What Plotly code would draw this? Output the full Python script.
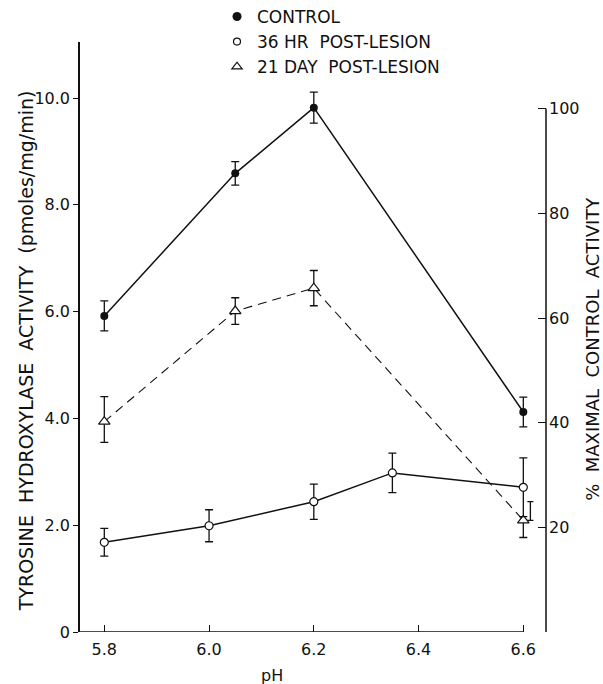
import plotly.graph_objects as go

# ---- data ----
ph_control = [5.8, 6.05, 6.2, 6.6]
control = [5.92, 8.59, 9.82, 4.12]
control_err = [0.28, 0.22, 0.29, 0.28]

ph_36hr = [5.8, 6.0, 6.2, 6.35, 6.6]
hr36 = [1.68, 1.99, 2.44, 2.98, 2.71]
hr36_err = [0.26, 0.30, 0.33, 0.37, 0.55]

ph_21day = [5.8, 6.05, 6.2, 6.6]
day21 = [3.94, 6.01, 6.44, 2.09]
day21_err_up = [0.47, 0.25, 0.33, 0.35]
day21_err_down = [0.39, 0.25, 0.33, 0.32]

x_ticks = [5.8, 6.0, 6.2, 6.4, 6.6]
x_ticklabels = ["5.8", "6.0", "6.2", "6.4", "6.6"]
y_ticks = [0, 2, 4, 6, 8, 10]
y_ticklabels = ["0", "2.0", "4.0", "6.0", "8.0", "10.0"]
pct_ticks = [0, 20, 40, 60, 80, 100]
pct_ticklabels = ["", "20", "40", "60", "80", "100"]
legend_names = ["CONTROL", "36 HR  POST-LESION", "21 DAY  POST-LESION"]

# ---- styling ----
FONT = "DejaVu Sans"
BLACK = "#111111"
Y_MAX = 11.05
X_RANGE = [5.7536, 6.6433]
PCT_PER_UNIT = 100 / 9.8
NB = "\u00a0\u00a0"
# the last 21-day upper error bar is drawn shifted right (as in the original)
BAR_SHIFT = 0.0135

fig = go.Figure()

def err(up, down=None):
    d = dict(type="data", array=up, visible=True, color=BLACK,
             thickness=1.3, width=4)
    if down is not None:
        d["symmetric"] = False
        d["arrayminus"] = down
    return d

fig.add_trace(go.Scatter(
    x=ph_control, y=control, mode="lines+markers", showlegend=False,
    line=dict(color=BLACK, width=1.5),
    marker=dict(symbol="circle", size=8, color=BLACK),
    error_y=err(control_err)))

# 21-day: upper bars for all but the last point, lower bars for all
up_main = day21_err_up[:-1] + [0]
fig.add_trace(go.Scatter(
    x=ph_21day, y=day21, mode="lines+markers", showlegend=False,
    line=dict(color=BLACK, width=1.1, dash="9px,6px"),
    marker=dict(symbol="triangle-up", size=10, color="white",
                line=dict(color=BLACK, width=1.2)),
    error_y=err(up_main, day21_err_down)))
# shifted upper bar of the last 21-day point
fig.add_trace(go.Scatter(
    x=[ph_21day[-1] + BAR_SHIFT], y=[day21[-1]], mode="markers",
    showlegend=False, hoverinfo="skip",
    marker=dict(size=1, color="rgba(0,0,0,0)"),
    error_y=dict(type="data", symmetric=False, array=[day21_err_up[-1]],
                 arrayminus=[0], color=BLACK, thickness=1.3, width=3)))

fig.add_trace(go.Scatter(
    x=ph_36hr, y=hr36, mode="lines+markers", showlegend=False,
    line=dict(color=BLACK, width=1.5),
    marker=dict(symbol="circle", size=8, color="white",
                line=dict(color=BLACK, width=1.2)),
    error_y=err(hr36_err)))

# legend-only entries (markers only, as in the reference)
leg_markers = [
    dict(symbol="circle", size=9, color=BLACK),
    dict(symbol="circle", size=7, color="white", line=dict(color=BLACK, width=1.2)),
    dict(symbol="triangle-up", size=9, color="white", line=dict(color=BLACK, width=1.2)),
]
for name, mk in zip(legend_names, leg_markers):
    fig.add_trace(go.Scatter(x=[None], y=[None], mode="markers", name=name,
                             marker=mk))

# right-hand axis (percent of maximal control activity)
fig.add_trace(go.Scatter(x=[None], y=[None], yaxis="y2", showlegend=False,
                         hoverinfo="skip"))

fig.update_layout(
    width=603, height=684,
    margin=dict(l=80, r=57, t=42, b=52, autoexpand=False),
    paper_bgcolor="white", plot_bgcolor="white",
    font=dict(family=FONT, size=16, color=BLACK),
    xaxis=dict(range=X_RANGE, tickvals=x_ticks, ticktext=x_ticklabels,
               ticks="inside", ticklen=7, tickwidth=1.3, tickcolor=BLACK,
               showline=False, showgrid=False, zeroline=False,
               ticklabelstandoff=6, tickfont=dict(size=16)),
    yaxis=dict(range=[0, Y_MAX], tickvals=y_ticks, ticktext=y_ticklabels,
               ticks="outside", ticklen=5, tickwidth=1.3, tickcolor=BLACK,
               showline=True, linecolor=BLACK, linewidth=1.5,
               showgrid=False, zeroline=False, tickfont=dict(size=16),
               ticklabelstandoff=0),
    yaxis2=dict(overlaying="y", side="right",
                range=[0, Y_MAX * PCT_PER_UNIT],
                tickvals=pct_ticks, ticktext=pct_ticklabels,
                ticks="inside", ticklen=8, tickwidth=1.3, tickcolor=BLACK,
                showline=False, showgrid=False, zeroline=False,
                tickfont=dict(size=16), ticklabelstandoff=2),
    legend=dict(x=0.294, y=1.073, xanchor="left", yanchor="top",
                bgcolor="rgba(0,0,0,0)", font=dict(size=17),
                tracegroupgap=0, itemwidth=30),
    shapes=[
        # x-axis baseline, from the left axis to the last tick
        dict(type="line", xref="x", yref="y", x0=X_RANGE[0], x1=x_ticks[-1],
             y0=0, y1=0, line=dict(color=BLACK, width=1.5)),
        # right axis line, 0 % to 100 %
        dict(type="line", xref="paper", yref="y2", x0=1, x1=1,
             y0=pct_ticks[0], y1=pct_ticks[-1], line=dict(color=BLACK, width=1.5)),
    ],
    annotations=[
        dict(text=f"TYROSINE{NB}HYDROXYLASE{NB}ACTIVITY{NB}(pmoles/mg/min)",
             xref="paper", yref="paper", x=-0.1159, y=0.4775, textangle=-90,
             xanchor="center", yanchor="middle",
             showarrow=False, font=dict(size=19)),
        dict(text=f"%{NB}MAXIMAL{NB}CONTROL{NB}ACTIVITY",
             xref="paper", yref="paper", x=1.1009, y=0.48, textangle=-90,
             xanchor="center", yanchor="middle",
             showarrow=False, font=dict(size=18)),
        dict(text="pH", xref="paper", yref="paper", x=0.412, y=-0.0734,
             xanchor="center", yanchor="middle",
             showarrow=False, font=dict(size=16)),
    ],
)

fig.write_html("out.html", config={"displayModeBar": False},
               post_script="document.body.style.margin='0';"
                           "document.body.style.overflow='hidden';")
